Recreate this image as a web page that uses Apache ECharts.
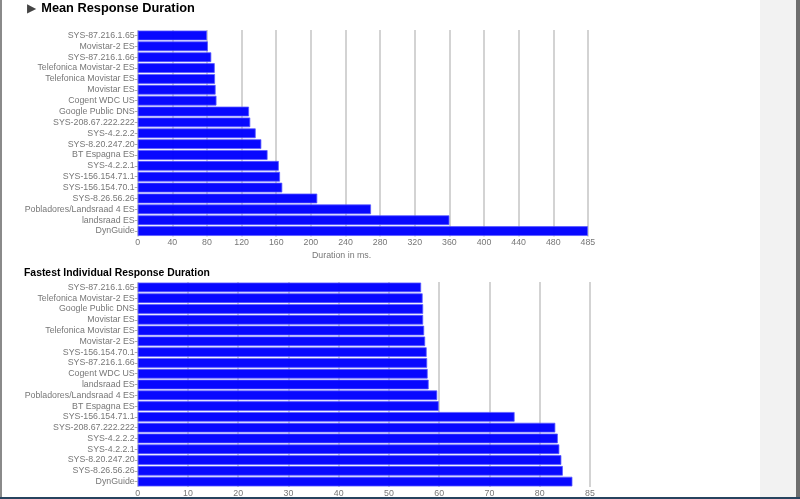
<!DOCTYPE html>
<html>
<head>
<meta charset="utf-8">
<script src="https://cdn.jsdelivr.net/npm/echarts@6/dist/echarts.min.js"></script>
<style>
  html, body { margin: 0; padding: 0; width: 800px; height: 499px; overflow: hidden; background: #fff; }
  #chart { position: absolute; left: 0; top: 0; width: 800px; height: 499px; }
  .lborder { position: absolute; left: 0; top: 0; width: 2px; height: 499px; background: #8a8a8a; }
  .rpanel { position: absolute; left: 760px; top: 0; width: 36px; height: 499px; background: #f2f2f2; }
  .rborder { position: absolute; left: 796px; top: 0; width: 4px; height: 499px; background: #6e6e6e; }
  .bborder { position: absolute; left: 0; top: 497px; width: 800px; height: 2px; background: #27445f; }
</style>
</head>
<body>
<div class="rpanel"></div>
<div class="rborder"></div>
<div id="chart"></div>
<div class="lborder"></div>
<div class="bborder"></div>
<script>
// ---- Data (values read in the units of the printed tick labels) ----
const meanCategories = [
  "SYS-87.216.1.65", "Movistar-2 ES", "SYS-87.216.1.66", "Telefonica Movistar-2 ES",
  "Telefonica Movistar ES", "Movistar ES", "Cogent WDC US", "Google Public DNS",
  "SYS-208.67.222.222", "SYS-4.2.2.2", "SYS-8.20.247.20", "BT Espagna ES",
  "SYS-4.2.2.1", "SYS-156.154.71.1", "SYS-156.154.70.1", "SYS-8.26.56.26",
  "Pobladores/Landsraad 4 ES", "landsraad ES", "DynGuide"
];
const meanValues = [80, 81, 85, 89, 89.3, 90, 91, 128.6, 130, 136.3, 142.8, 150, 163, 164.4, 167, 207.4, 269.5, 360, 520];
const meanTickLabels = ["0", "40", "80", "120", "160", "200", "240", "280", "320", "360", "400", "440", "480", "485"];

const fastCategories = [
  "SYS-87.216.1.65", "Telefonica Movistar-2 ES", "Google Public DNS", "Movistar ES",
  "Telefonica Movistar ES", "Movistar-2 ES", "SYS-156.154.70.1", "SYS-87.216.1.66",
  "Cogent WDC US", "landsraad ES", "Pobladores/Landsraad 4 ES", "BT Espagna ES",
  "SYS-156.154.71.1", "SYS-208.67.222.222", "SYS-4.2.2.2", "SYS-4.2.2.1",
  "SYS-8.20.247.20", "SYS-8.26.56.26", "DynGuide"
];
const fastValues = [56.4, 56.7, 56.8, 56.8, 57.0, 57.2, 57.5, 57.6, 57.7, 57.9, 59.6, 59.9, 75.0, 83.1, 83.6, 83.9, 84.3, 84.6, 86.5];
const fastTickLabels = ["0", "10", "20", "30", "40", "50", "60", "70", "80", "85"];

const meanTitle = "Mean Response Duration";
const fastTitle = "Fastest Individual Response Duration";
const meanAxisName = "Duration in ms.";

// ---- Chart ----
const FONT = "'Liberation Sans', Arial, sans-serif";
const labelColor = "#777";
const chart = echarts.init(document.getElementById('chart'), null, { renderer: 'canvas' });

function yAxis(gridIndex, cats) {
  return {
    type: 'category', gridIndex, data: cats, inverse: true,
    axisLine: { show: false },
    axisTick: { show: true, length: 3, alignWithLabel: true, interval: 0, lineStyle: { color: '#aaa' } },
    axisLabel: { color: labelColor, fontSize: 8.8, fontFamily: FONT, margin: 3, interval: 0 }
  };
}
function xAxis(gridIndex, interval, labels) {
  const max = interval * (labels.length - 1);
  return {
    type: 'value', gridIndex, min: 0, max, interval,
    axisLine: { show: false }, axisTick: { show: false },
    splitLine: { show: true, lineStyle: { color: '#c4c4c4', width: 1.5 } },
    axisLabel: {
      color: labelColor, fontSize: 8.8, fontFamily: FONT, margin: 2,
      showMaxLabel: true,
      formatter: v => labels[Math.round(v / interval)]
    }
  };
}
const barStyle = { color: '#0000ff', borderColor: '#5a5aff', borderWidth: 0.8, opacity: 0.97 };

chart.setOption({
  animation: false,
  title: [
    {
      left: 22, top: -3,
      text: '{tri|▶}{t|' + meanTitle + '}',
      textStyle: {
        rich: {
          tri: { color: '#444', fontSize: 12, fontFamily: 'DejaVu Sans', padding: [0, 5, 0, 0] },
          t: { color: '#000', fontSize: 12.8, fontWeight: 'bold', fontFamily: FONT }
        }
      }
    },
    {
      left: 19, top: 263,
      text: fastTitle,
      textStyle: { color: '#000', fontSize: 10.4, fontWeight: 'bold', fontFamily: FONT }
    }
  ],
  graphic: [
    { type: 'text', left: 312, top: 251, style: { text: meanAxisName, fill: labelColor, font: '8.8px ' + FONT } }
  ],
  grid: [
    { left: 137.7, top: 30, width: 450.2, height: 206.5 },
    { left: 137.7, top: 282, width: 452.3, height: 205 }
  ],
  xAxis: [xAxis(0, 40, meanTickLabels), xAxis(1, 10, fastTickLabels)],
  yAxis: [yAxis(0, meanCategories), yAxis(1, fastCategories)],
  series: [
    { type: 'bar', xAxisIndex: 0, yAxisIndex: 0, data: meanValues, barCategoryGap: '10%', itemStyle: barStyle, silent: true },
    { type: 'bar', xAxisIndex: 1, yAxisIndex: 1, data: fastValues, barCategoryGap: '10%', itemStyle: barStyle, silent: true }
  ]
});
</script>
</body>
</html>
